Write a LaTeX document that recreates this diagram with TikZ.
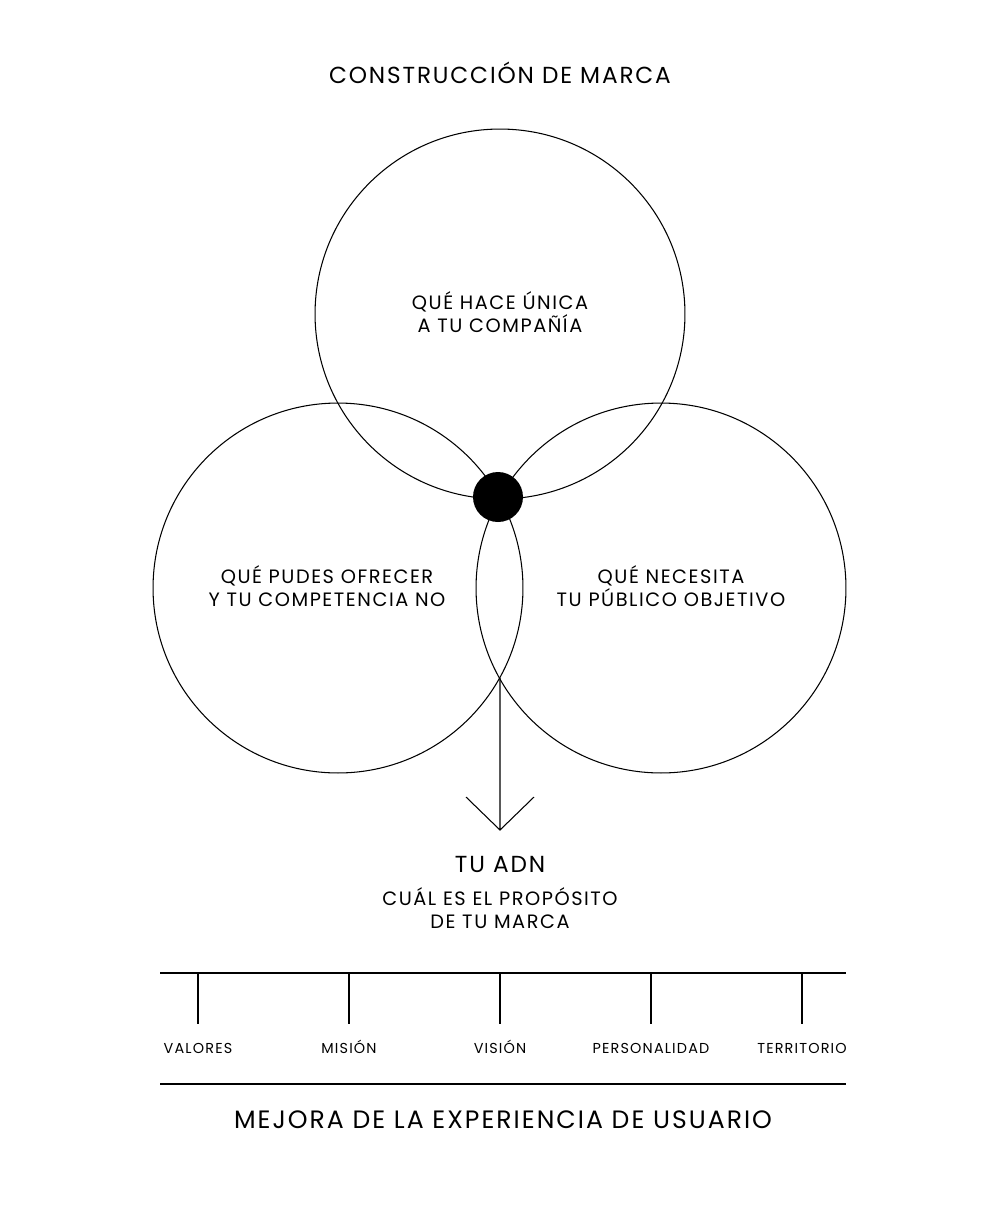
\documentclass[tikz,border=0pt]{standalone}
\usepackage{fontspec}
\setmainfont{Poppins}[LetterSpace = 8]
\begin{document}
\begin{tikzpicture}[x = 0.02cm, y = -0.02cm,
    ring/.style = {shape = circle, draw, line width = 0.6pt, minimum size = 7.4cm, inner sep = 0pt},
    label/.style = {align = center, font = \fontsize{11}{13.5}\selectfont},
    tick/.style = {font = \fontsize{8.2}{9}\selectfont, text height = 1.5ex, text depth = 0.3ex}]
    \useasboundingbox (0,0) rectangle (1000,1211);
    \node (T) at (500,73) {\fontsize{13.2}{15}\selectfont CONSTRUCCIÓN DE MARCA};
    \node [ring] (C1) at (500,314) {};
    \node [ring] (C2) at (338,588) {};
    \node [ring] (C3) at (661,588) {};
    \node [label] at (500,312) {QUÉ HACE ÚNICA\\A TU COMPAÑÍA};
    \node [label] at (327,586) {QUÉ PUDES OFRECER\\Y TU COMPETENCIA NO};
    \node [label] at (671,586) {QUÉ NECESITA\\TU PÚBLICO OBJETIVO};
    \node [shape = circle, fill = black, minimum size = 1cm] (DOT) at (498,497) {};
    \coordinate (A) at (500,678);
    \coordinate (B) at (500,830);
    \draw [line width = 0.6pt] (A) -- (B) (466,797) -- (B) -- (534,797);
    \node (ADN) at (500,864) {\fontsize{13.2}{15}\selectfont TU ADN};
    \node [label] (P) at (500,908) {CUÁL ES EL PROPÓSITO\\DE TU MARCA};
    \draw [line width = 0.6pt] (160,973) -- (846,973);
    \foreach \x/\t in {198/VALORES, 349/MISIÓN, 500/VISIÓN, 651/PERSONALIDAD, 802/TERRITORIO}{
        \draw [line width = 0.6pt] (\x,973) -- (\x,1024);
        \node [tick] at (\x,1048) {\t};
    }
    \draw [line width = 0.6pt] (160,1084) -- (846,1084);
    \node (M) at (503,1120) {\fontsize{14.3}{16}\selectfont MEJORA DE LA EXPERIENCIA DE USUARIO};
\end{tikzpicture}
\end{document}
